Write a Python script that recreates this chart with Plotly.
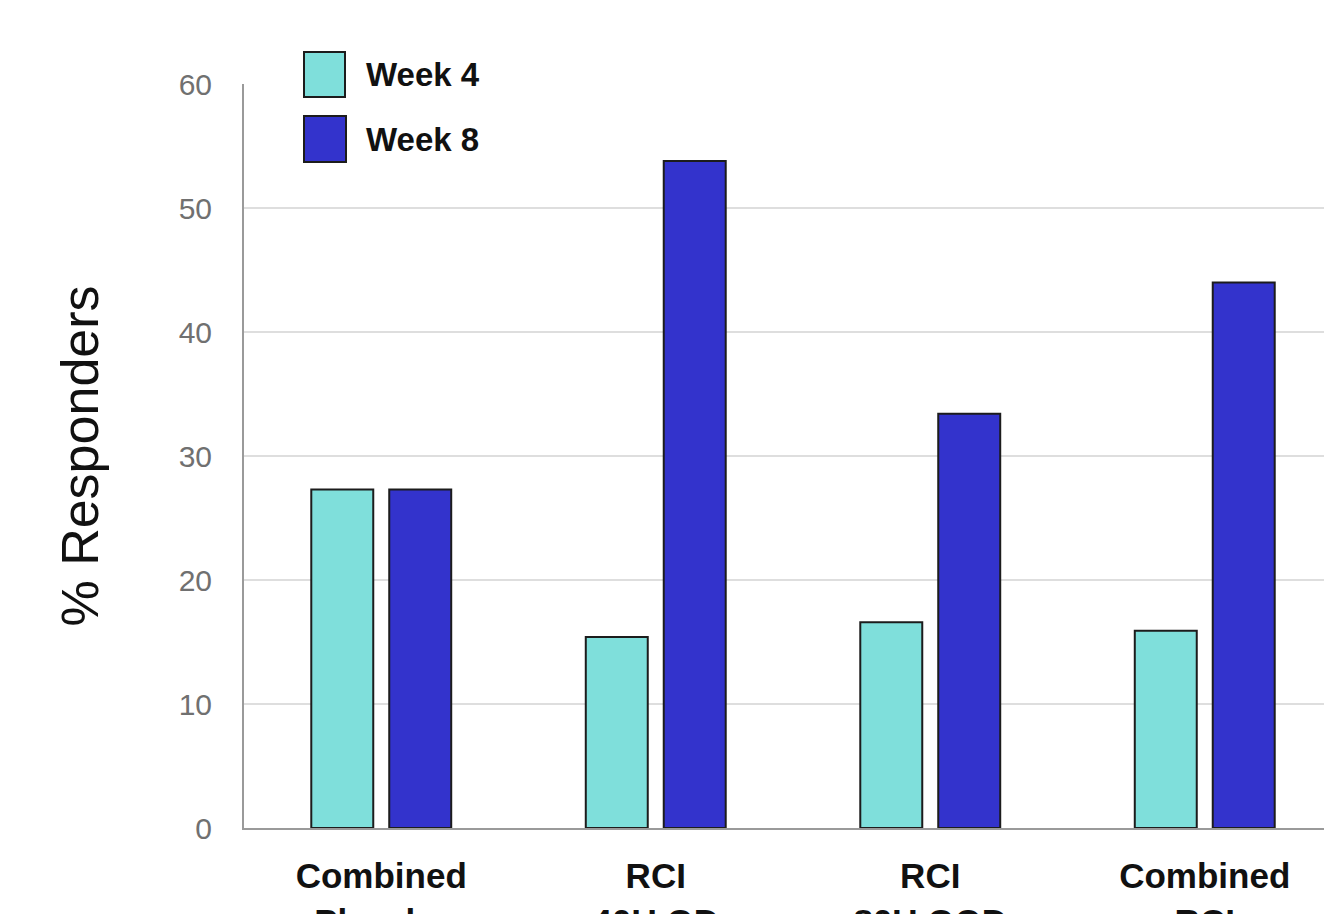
import plotly.graph_objects as go

# Responder rates by treatment group
categories = ["Combined<br>Placebo", "RCI<br>40U QD", "RCI<br>80U QOD", "Combined<br>RCI"]
week4 = [27.3, 15.4, 16.6, 15.9]
week8 = [27.3, 53.8, 33.4, 44.0]
series_names = ["Week 4", "Week 8"]
y_ticks = [0, 10, 20, 30, 40, 50, 60]

colors = ["#7fdfdb", "#3333cc"]
outline = "#1c1c1c"
font_family = "Arial, Liberation Sans, sans-serif"

W, H = 1324, 914
L, R, T, B = 244, 0, 84, 86
plot_w = W - L - R
plot_h = H - T - B

x_pos = list(range(len(categories)))

fig = go.Figure()
for name, vals, col in zip(series_names, [week4, week8], colors):
    fig.add_trace(go.Bar(
        x=x_pos, y=vals, name=name,
        marker=dict(color=col, line=dict(color=outline, width=2)),
        showlegend=False,
    ))

# Large square legend swatches with labels (pixel positions converted to paper coords)
def px_x(px):
    return (px - L) / plot_w

def px_y(py):
    return (H - B - py) / plot_h

swatches = [(304, 52, 345, 97), (304, 116, 346, 162)]
for (x0, y0, x1, y1), col, name in zip(swatches, colors, series_names):
    fig.add_shape(type="rect", xref="paper", yref="paper",
                  x0=px_x(x0), x1=px_x(x1), y0=px_y(y1), y1=px_y(y0),
                  fillcolor=col, line=dict(color=outline, width=2), layer="above")
    fig.add_annotation(xref="paper", yref="paper", x=px_x(364), y=px_y((y0 + y1) / 2),
                       text="<b>%s</b>" % name, showarrow=False,
                       xanchor="left", yanchor="middle",
                       font=dict(family=font_family, size=33, color="#111111"))

fig.update_layout(
    width=W, height=H,
    margin=dict(l=L, r=R, t=T, b=B, pad=0, autoexpand=False),
    paper_bgcolor="white", plot_bgcolor="white",
    barmode="group", bargap=0.432, bargroupgap=0.205,
    font=dict(family=font_family),
    xaxis=dict(
        range=[-0.5, 3.5 - 18 / 274.5],
        tickvals=x_pos, ticktext=["<b>%s</b>" % c for c in categories],
        tickfont=dict(family=font_family, size=35, color="#111111"),
        showgrid=False, zeroline=False,
        showline=True, linecolor="#9a9a9a", linewidth=2,
        ticks="", ticklabelstandoff=16, automargin=False,
    ),
    yaxis=dict(
        range=[0, 60], tickvals=y_ticks,
        tickfont=dict(family=font_family, size=30, color="#707070"),
        showgrid=True, gridcolor="#dedede", gridwidth=1.5,
        zeroline=False,
        showline=True, linecolor="#9a9a9a", linewidth=2,
        ticks="", ticklabelstandoff=24, automargin=False,
        title=dict(text="% Responders",
                   font=dict(family=font_family, size=52, color="#111111"),
                   standoff=63),
    ),
)

fig.write_html("out.html")
